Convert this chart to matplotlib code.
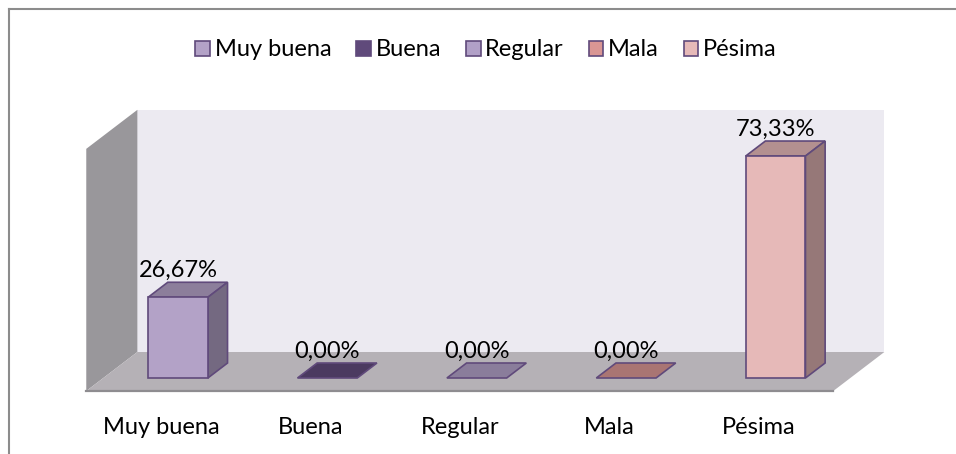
import numpy as np
import matplotlib.pyplot as plt
from matplotlib.patches import Polygon, Patch
from matplotlib.lines import Line2D
from matplotlib.colors import to_rgb

categories = ['Muy buena', 'Buena', 'Regular', 'Mala', 'Pésima']
values = [26.67, 0.00, 0.00, 0.00, 73.33]
value_labels = ['26,67%', '0,00%', '0,00%', '0,00%', '73,33%']
colors = ['#B3A2C7', '#604A7B', '#B1A0C7', '#D99694', '#E6B9B8']
y_max = 80

plt.rcParams['font.family'] = ['Lato', 'DejaVu Sans']
FS = 17

# pixel scale of the fake 3d projection
PX_X = 149.4   # pixels per category
PX_Y = 3.027   # pixels per percent
SLANT = 1.31   # x shift per pixel of depth


def shift(d):
    # offset in data units for a depth of d pixels
    return d * SLANT / PX_X, d / PX_Y


def darker(c, f):
    return tuple(np.array(to_rgb(c)) * f)


fig = plt.figure(figsize=(9.56, 4.54), dpi=100)
ax = fig.add_axes([0, 0, 1, 1])
ax.set_xlim(-178 / PX_X, (956 - 178) / PX_X)
ax.set_ylim((378 - 454) / PX_Y, 378 / PX_Y)
ax.axis('off')

# walls and floor
x0, x1 = -0.5, len(categories) - 0.5
fx, fy = shift(-13)
bx, by = shift(26)
side = [(x0 + fx, fy), (x0 + fx, y_max + fy), (x0 + bx, y_max + by), (x0 + bx, by)]
back = [(x0 + bx, by), (x0 + bx, y_max + by), (x1 + bx, y_max + by), (x1 + bx, by)]
floor = [(x0 + fx, fy), (x0 + bx, by), (x1 + bx, by), (x1 + fx, fy)]
ax.add_patch(Polygon(back, closed=True, fc='#ECEAF1', ec='none'))
ax.add_patch(Polygon(side, closed=True, fc='#99979B', ec='none'))
ax.add_patch(Polygon(floor, closed=True, fc='#B5B1B6', ec='none'))
ax.plot([x0 + fx, x1 + fx], [fy, fy], color='#8E8C90', lw=1.6)

# bars
w = 0.40
ddx, ddy = shift(15)
edge = '#604A7B'
for i, (v, c) in enumerate(zip(values, colors)):
    l, r = i - w / 2, i + w / 2
    top = [(l, v), (l + ddx, v + ddy), (r + ddx, v + ddy), (r, v)]
    ax.add_patch(Polygon(top, closed=True, fc=darker(c, 0.78), ec=edge, lw=1.2, zorder=3))
    if v > 0:
        sd = [(r, 0), (r + ddx, ddy), (r + ddx, v + ddy), (r, v)]
        ax.add_patch(Polygon(sd, closed=True, fc=darker(c, 0.65), ec=edge, lw=1.2, zorder=3))
        ax.bar(i, v, width=w, color=c, edgecolor=edge, linewidth=1.2, zorder=4)
    ax.text(i, v + ddy + 12 / PX_Y, value_labels[i], ha='center', va='center',
            fontsize=FS, color='black', zorder=5)

# category labels
for i, name in enumerate(categories):
    ax.text(i + fx, (378 - 427) / PX_Y, name, ha='center', va='center', fontsize=FS)

handles = [Patch(fc=c, ec=edge, lw=1.2) for c in colors]
fig.legend(handles, categories, loc='center', bbox_to_anchor=(486 / 956, 1 - 50 / 454),
           ncol=5, frameon=False, fontsize=FS, handlelength=0.62, handleheight=0.62,
           handletextpad=0.2, columnspacing=1.05)

# chart border
fig.add_artist(Line2D([9 / 956, 9 / 956], [0, 1 - 9 / 454], color='#8C8C8C', lw=1.5))
fig.add_artist(Line2D([9 / 956, 1], [1 - 9 / 454, 1 - 9 / 454], color='#8C8C8C', lw=1.5))

fig.savefig('out.png', dpi=100)
